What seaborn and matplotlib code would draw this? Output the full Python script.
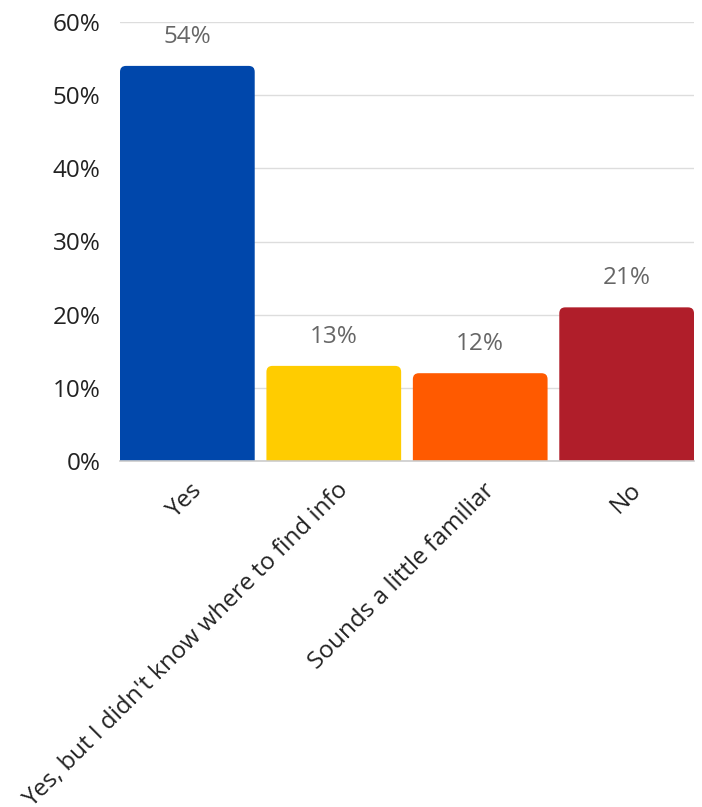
import matplotlib
matplotlib.use("Agg")
import matplotlib.pyplot as plt
from matplotlib.patches import FancyBboxPatch
from matplotlib.ticker import FuncFormatter
from matplotlib.transforms import ScaledTranslation
import seaborn as sns
import pandas as pd

categories = ["Yes", "Yes, but I didn't know where to find info",
              "Sounds a little familiar", "No"]
values = [54, 13, 12, 21]
colors = ["#0047AB", "#FFCC00", "#FF5A00", "#B01E2A"]
yticks = [0, 10, 20, 30, 40, 50, 60]

sns.set_theme(style="white")
plt.rcParams["font.family"] = ["Open Sans", "DejaVu Sans"]

df = pd.DataFrame({"category": categories, "value": values})

fig = plt.figure(figsize=(7.02, 8.07), dpi=100)
ax = fig.add_axes([120 / 702, 1 - 461 / 807, 574 / 702, 439 / 807])

sns.barplot(data=df, x="category", y="value", hue="category",
            palette=colors, saturation=1, width=0.92, legend=False,
            ax=ax, zorder=3)

ax.set_xlim(-0.46, 3.46)
ax.set_ylim(0, 60)

# swap the plain rectangles for bars with rounded top corners
fig.canvas.draw()
bbox = ax.get_window_extent()
x_per_px = (3.46 + 0.46) / bbox.width
y_per_px = 60 / bbox.height
radius_px = 6
for bar in list(ax.patches):
    x0, w, h = bar.get_x(), bar.get_width(), bar.get_height()
    fc = bar.get_facecolor()
    bar.remove()
    ext = radius_px * y_per_px
    rounded = FancyBboxPatch(
        (x0, -ext), w, h + ext,
        boxstyle=f"round,pad=0,rounding_size={radius_px * x_per_px}",
        mutation_aspect=y_per_px / x_per_px,
        facecolor=fc, edgecolor="none", zorder=3, clip_on=True)
    ax.add_patch(rounded)
    ax.annotate(f"{h:g}%", (x0 + w / 2, h), xytext=(0, 21),
                textcoords="offset points", ha="center", va="center",
                fontsize=17.5, color="#666666")

ax.set_yticks(yticks)
ax.yaxis.set_major_formatter(FuncFormatter(lambda v, _: f"{v:g}%"))
ax.grid(axis="y", color="#DDDDDD", linewidth=1, zorder=0)
ax.set_axisbelow(True)

for side in ["top", "right", "left"]:
    ax.spines[side].set_visible(False)
ax.spines["bottom"].set_color("#CCCCCC")
ax.spines["bottom"].set_linewidth(1.2)
ax.spines["bottom"].set_zorder(4)

ax.tick_params(axis="y", length=0, pad=14, labelsize=17.5, labelcolor="#222222")
ax.tick_params(axis="x", length=0, pad=10, labelsize=17.5, labelcolor="#222222")
ax.set_xticks(range(len(categories)))
ax.set_xticklabels(categories, rotation=45, ha="right",
                   rotation_mode="anchor", va="center")
shift = ScaledTranslation(11 / 100, -12 / 100, fig.dpi_scale_trans)
for lbl in ax.get_xticklabels():
    lbl.set_transform(lbl.get_transform() + shift)
ax.set_xlabel("")
ax.set_ylabel("")

fig.savefig("out.png", dpi=100)
